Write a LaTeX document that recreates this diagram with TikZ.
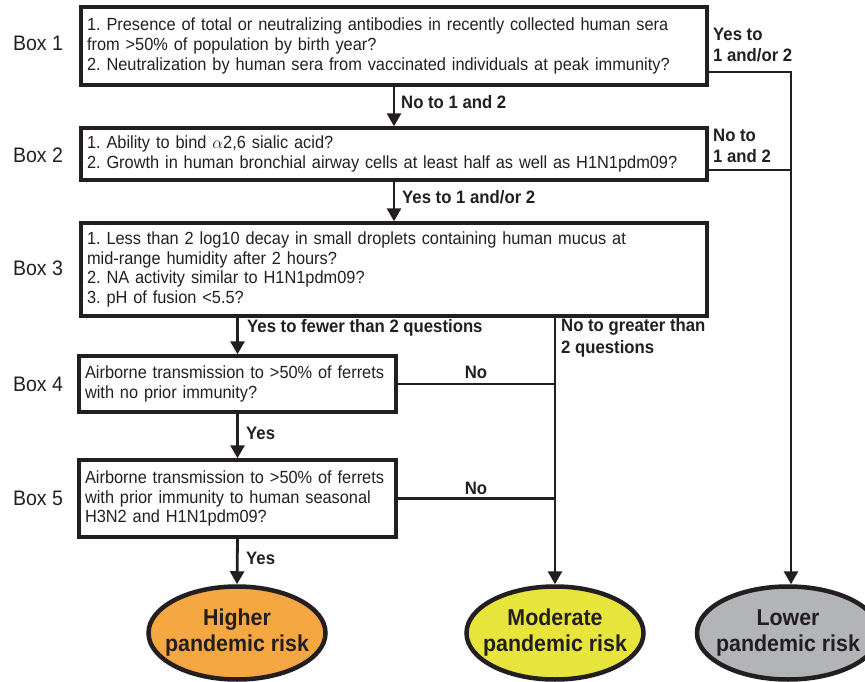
\documentclass[tikz,border=0pt]{standalone}
\usepackage{fontspec}
\setmainfont[FakeStretch=0.93]{Liberation Sans}
\newfontfamily\labfont[FakeStretch=0.93]{Liberation Sans}
\usetikzlibrary{arrows.meta,calc,shapes.geometric}
\definecolor{ink}{HTML}{231F20}
\definecolor{riskhigh}{HTML}{F5A742}
\definecolor{riskmod}{HTML}{E7E43C}
\definecolor{risklow}{HTML}{B2B4B7}
\frenchspacing
\begin{document}
\begin{tikzpicture}[x=1pt,y=-1pt,
  qbox/.style={draw=ink, line width=3.4pt, rectangle, inner xsep=6pt, inner ysep=2pt,
    align=left, font=\fontsize{17.6}{19.8}\selectfont, text=ink},
  boxlab/.style={font=\labfont\fontsize{21}{24}\selectfont, text=ink},
  elab/.style={font=\bfseries\fontsize{18}{21.5}\selectfont, text=ink, align=left, inner sep=0pt},
  risk/.style={ellipse, draw=ink, line width=4.5pt, minimum width=177pt, minimum height=93pt,
    align=center, inner xsep=-12pt, inner ysep=0pt, font=\bfseries\fontsize{23}{26}\selectfont, text=ink},
  conn/.style={draw=ink, line width=2.8pt},
  arr/.style={conn, -{Triangle[length=13pt, width=14pt]}}]
\useasboundingbox (0,0) rectangle (865,682);

% question boxes
\node[qbox, text width=614pt, minimum height=78pt] (b1) at (394,46)
  {1. Presence of total or neutralizing antibodies in recently collected human sera\\
   from >50\% of population by birth year?\\
   2. Neutralization by human sera from vaccinated individuals at peak immunity?};
\node[qbox, text width=614pt, minimum height=52pt] (b2) at (394,154)
  {1. Ability to bind $\alpha$2,6 sialic acid?\\
   2. Growth in human bronchial airway cells at least half as well as H1N1pdm09?};
\node[qbox, text width=614pt, minimum height=93pt] (b3) at (394,269.5)
  {1. Less than 2 log10 decay in small droplets containing human mucus at\\
   mid-range humidity after 2 hours?\\
   2. NA activity similar to H1N1pdm09?\\
   3. pH of fusion <5.5?};
\node[qbox, text width=305pt, minimum height=56pt] (b4) at (237.5,384)
  {Airborne transmission to >50\% of ferrets\\ with no prior immunity?};
\node[qbox, text width=305pt, minimum height=77pt] (b5) at (237.5,498.5)
  {Airborne transmission to >50\% of ferrets\\ with prior immunity to human seasonal\\ H3N2 and H1N1pdm09?};

% box labels
\node[boxlab] (l1) at (38,43) {Box 1};
\node[boxlab] (l2) at (38,155) {Box 2};
\node[boxlab] (l3) at (38,268) {Box 3};
\node[boxlab] (l4) at (38,384) {Box 4};
\node[boxlab] (l5) at (38,498) {Box 5};

% outcomes
\node[risk, fill=riskhigh] (high) at (237,633) {Higher\\pandemic risk};
\node[risk, fill=riskmod] (mod) at (555,633) {Moderate\\pandemic risk};
\node[risk, fill=risklow, minimum width=182pt] (low) at (788,633) {Lower\\pandemic risk};

% junction points
\coordinate (r1) at (791,72);
\coordinate (r2) at (791,170);

% connectors
\draw[arr] (b1.south) -- (b2.north);
\draw[arr] (b2.south) -- (b3.north);
\draw[arr] (b3.south -| b4.north) -- (b4.north);
\draw[arr] (b4.south) -- (b5.north);
\draw[arr] (b5.south) -- (high.north);
\draw[arr] (b3.south -| mod.north) -- (mod.north);
\draw[conn] (b4.east) -- (b4.east -| mod.north);
\draw[conn] (b5.east) -- (b5.east -| mod.north);
\draw[arr] (b1.east |- r1) -- (r1) -- (r1 |- low.north);
\draw[conn] (b2.east |- r2) -- (r2);

% connector labels
\node[elab, anchor=west] (t1) at (401,102) {No to 1 and 2};
\node[elab, anchor=west] (t2) at (713,45) {Yes to\\1 and/or 2};
\node[elab, anchor=west] (t3) at (713,146) {No to\\1 and 2};
\node[elab, anchor=west] (t4) at (402,197) {Yes to 1 and/or 2};
\node[elab, anchor=west] (t5) at (247,328) {Yes to fewer than 2 questions};
\node[elab, anchor=west] (t6) at (561,338) {No to greater than\\2 questions};
\node[elab] (t7) at (476,372) {No};
\node[elab, anchor=west] (t8) at (246,433) {Yes};
\node[elab] (t9) at (476,488) {No};
\node[elab, anchor=west] (t10) at (246,558) {Yes};
\end{tikzpicture}
\end{document}
